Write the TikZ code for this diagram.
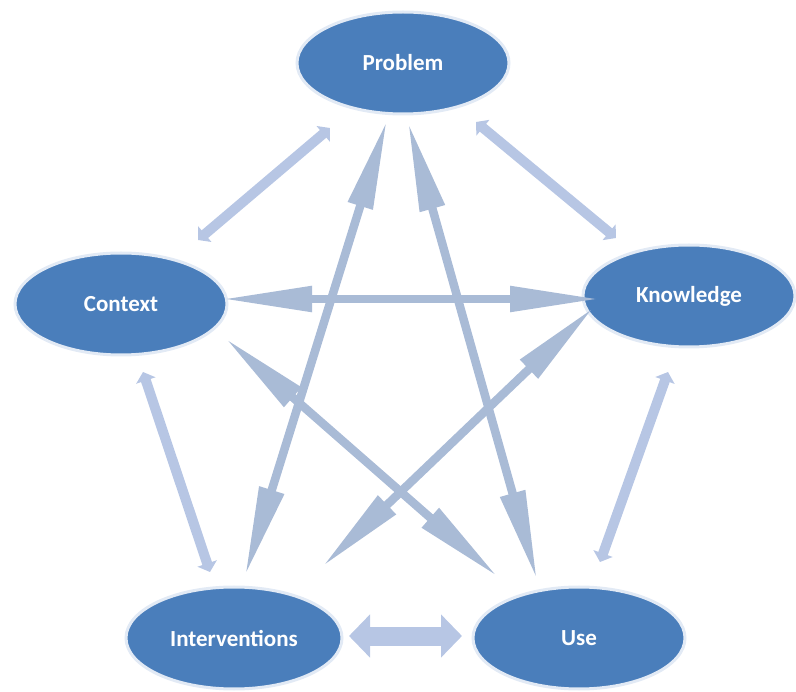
\documentclass[tikz,border=0pt]{standalone}
\usepackage{fontspec}
\setmainfont{Carlito}
\usetikzlibrary{shapes.geometric,arrows.meta}
\definecolor{ellblue}{HTML}{4A7EBB}
\definecolor{glow}{HTML}{E2EAF5}
\definecolor{starcol}{HTML}{A9BBD6}
\definecolor{lightcol}{HTML}{B7C6E4}
\begin{document}
\begin{tikzpicture}[x=1pt,y=-1pt,
  ell/.style={ellipse, fill=ellblue, draw=glow, line width=3pt,
    minimum width=#1, minimum height=102pt, inner sep=0pt, outer sep=0pt,
    text=white, font=\bfseries\fontsize{23}{27}\selectfont},
  ell/.default=212pt,
  star/.style={draw=starcol, line width=8.5pt,
    {Triangle[length=90pt,width=24pt]}-{Triangle[length=90pt,width=24pt]}},
  soft/.style={draw=lightcol, line width=10pt,
    {Triangle[length=9pt,width=20pt]}-{Triangle[length=9pt,width=20pt]}},
  wide/.style={draw=lightcol, line width=19pt,
    {Triangle[length=21pt,width=42pt]}-{Triangle[length=21pt,width=42pt]}}
]
\useasboundingbox (0,0) rectangle (796,692);

\node[ell] (P) at (403,63) {Problem};
\node[ell] (C) at (121,304) {Context};
\node[ell] (K) at (689,296) {Knowledge};
\node[ell=216pt] (I) at (234,638) {Interventions};
\node[ell] (U) at (579,638) {Use};

% pale connectors between neighbours
\draw[soft] ([shift={(-73,65)}]P.center) -- ([shift={(77,-64)}]C.center);
\draw[soft] ([shift={(73,59)}]P.center) -- ([shift={(-73,-58)}]K.center);
\draw[soft] ([shift={(22,68)}]C.center) -- ([shift={(-24,-66)}]I.center);
\draw[soft] ([shift={(-21,76)}]K.center) -- ([shift={(21,-76)}]U.center);
\draw[wide] ([shift={(115,-2)}]I.center) -- ([shift={(-117,-2)}]U.center);

% star connectors
\draw[star] ([shift={(-16,57)}]P.center) -- ([shift={(11,-62)}]I.center);
\draw[star] ([shift={(5,59)}]P.center) -- ([shift={(-42,-58)}]U.center);
\draw[star] ([shift={(101,-5)}]C.center) -- ([shift={(-89,3)}]K.center);
\draw[star] ([shift={(104,34)}]C.center) -- ([shift={(-81,-61)}]U.center);
\draw[star] ([shift={(-95,11)}]K.center) -- ([shift={(88,-71)}]I.center);
\end{tikzpicture}
\end{document}
